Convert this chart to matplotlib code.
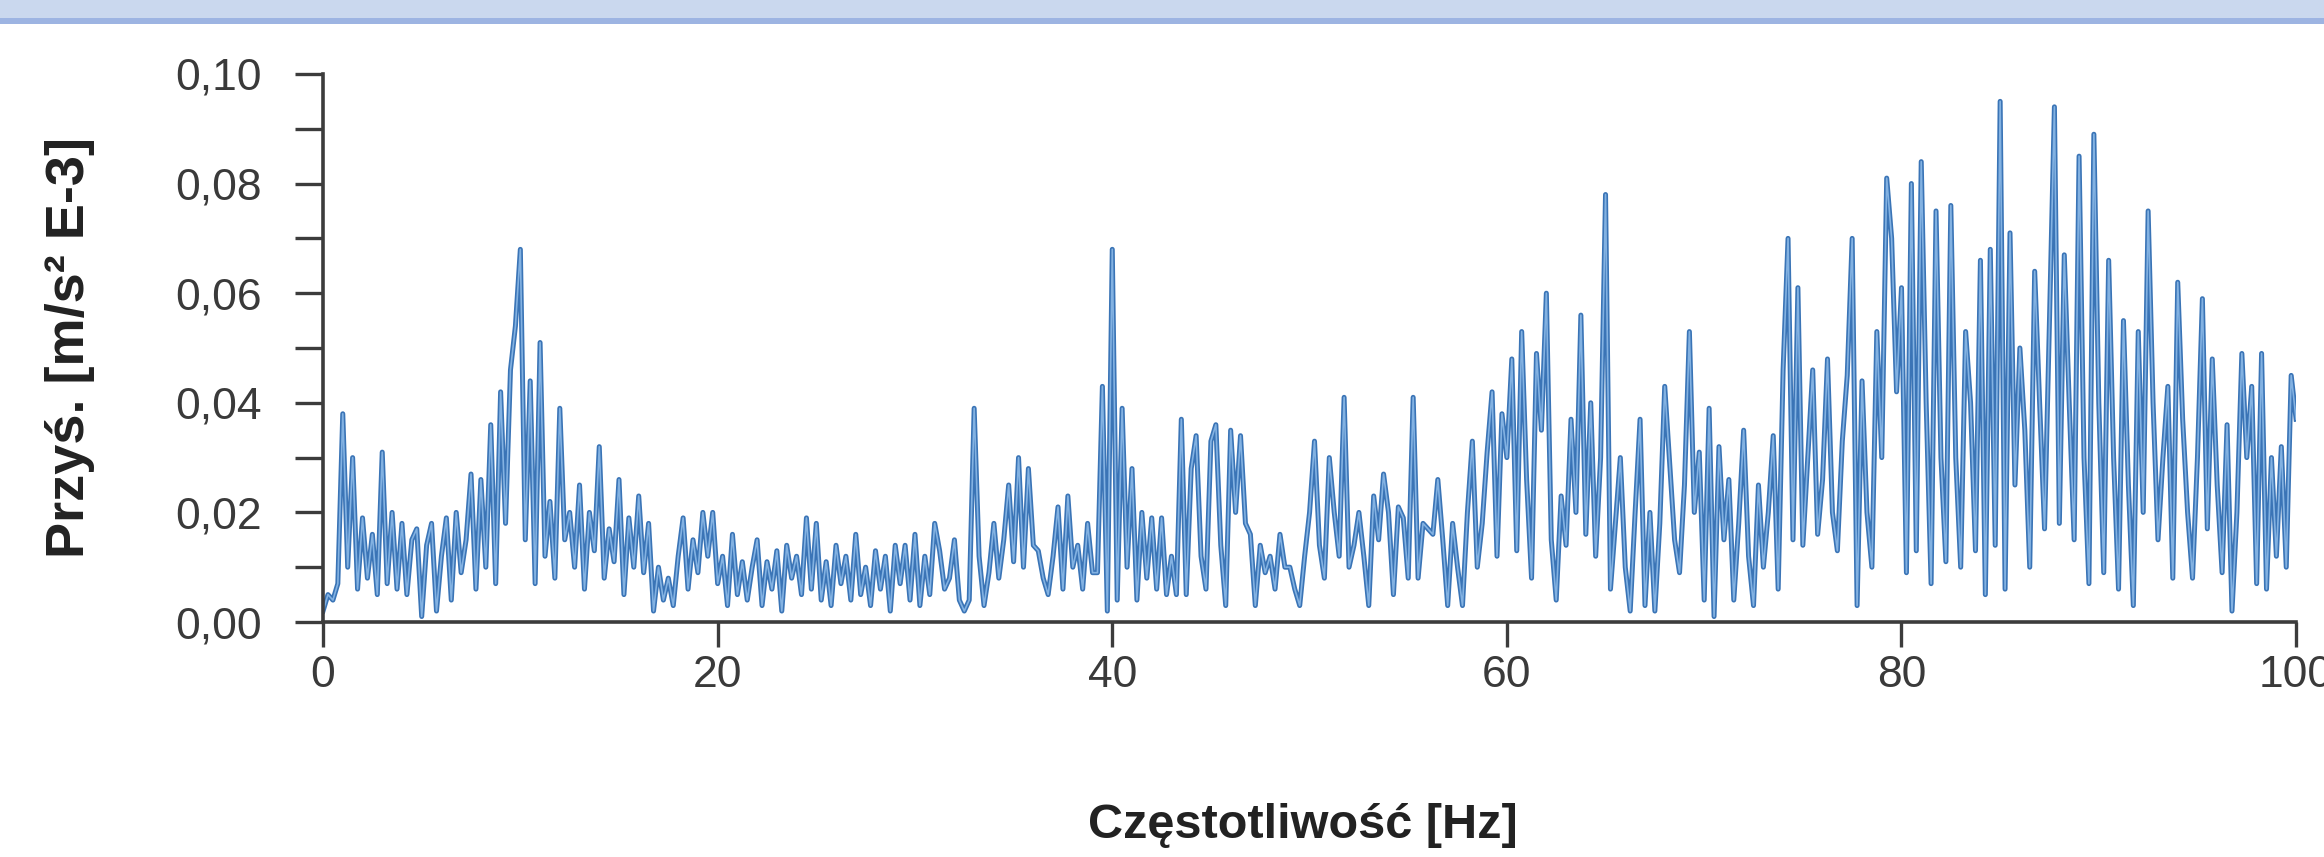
import numpy as np
import matplotlib
matplotlib.use('Agg')
import matplotlib.pyplot as plt
from matplotlib.patches import Rectangle
from matplotlib.ticker import MultipleLocator

# spectrum, one value every 0.25 Hz from 0 to 100 Hz
freq_step = 0.25
accel = [
    # 0 - 5 Hz
    0.002, 0.005, 0.004, 0.007, 0.038, 0.010, 0.030, 0.006, 0.019, 0.008,
    0.016, 0.005, 0.031, 0.007, 0.020, 0.006, 0.018, 0.005, 0.015, 0.017,
    # 5 - 10 Hz
    0.001, 0.014, 0.018, 0.002, 0.012, 0.019, 0.004, 0.020, 0.009, 0.015,
    0.027, 0.006, 0.026, 0.010, 0.036, 0.007, 0.042, 0.018, 0.046, 0.054,
    # 10 - 15 Hz
    0.068, 0.015, 0.044, 0.007, 0.051, 0.012, 0.022, 0.008, 0.039, 0.015,
    0.020, 0.010, 0.025, 0.006, 0.020, 0.013, 0.032, 0.008, 0.017, 0.011,
    # 15 - 20 Hz
    0.026, 0.005, 0.019, 0.010, 0.023, 0.009, 0.018, 0.002, 0.010, 0.004,
    0.008, 0.003, 0.012, 0.019, 0.006, 0.015, 0.009, 0.020, 0.012, 0.020,
    # 20 - 25 Hz
    0.007, 0.012, 0.003, 0.016, 0.005, 0.011, 0.004, 0.010, 0.015, 0.003,
    0.011, 0.006, 0.013, 0.002, 0.014, 0.008, 0.012, 0.005, 0.019, 0.006,
    # 25 - 30 Hz
    0.018, 0.004, 0.011, 0.003, 0.014, 0.007, 0.012, 0.004, 0.016, 0.005,
    0.010, 0.003, 0.013, 0.006, 0.012, 0.002, 0.014, 0.007, 0.014, 0.004,
    # 30 - 35 Hz
    0.016, 0.003, 0.012, 0.005, 0.018, 0.013, 0.006, 0.008, 0.015, 0.004,
    0.002, 0.004, 0.039, 0.012, 0.003, 0.009, 0.018, 0.008, 0.015, 0.025,
    # 35 - 40 Hz
    0.011, 0.030, 0.010, 0.028, 0.014, 0.013, 0.008, 0.005, 0.012, 0.021,
    0.006, 0.023, 0.010, 0.014, 0.006, 0.018, 0.009, 0.009, 0.043, 0.002,
    # 40 - 45 Hz
    0.068, 0.004, 0.039, 0.010, 0.028, 0.004, 0.020, 0.008, 0.019, 0.006,
    0.019, 0.005, 0.012, 0.005, 0.037, 0.005, 0.028, 0.034, 0.012, 0.006,
    # 45 - 50 Hz
    0.033, 0.036, 0.014, 0.003, 0.035, 0.020, 0.034, 0.018, 0.016, 0.003,
    0.014, 0.009, 0.012, 0.006, 0.016, 0.010, 0.010, 0.006, 0.003, 0.012,
    # 50 - 55 Hz
    0.020, 0.033, 0.014, 0.008, 0.030, 0.020, 0.012, 0.041, 0.010, 0.014,
    0.020, 0.012, 0.003, 0.023, 0.015, 0.027, 0.020, 0.005, 0.021, 0.019,
    # 55 - 60 Hz
    0.008, 0.041, 0.008, 0.018, 0.017, 0.016, 0.026, 0.015, 0.003, 0.018,
    0.010, 0.003, 0.020, 0.033, 0.010, 0.018, 0.031, 0.042, 0.012, 0.038,
    # 60 - 65 Hz
    0.030, 0.048, 0.013, 0.053, 0.026, 0.008, 0.049, 0.035, 0.060, 0.015,
    0.004, 0.023, 0.014, 0.037, 0.020, 0.056, 0.016, 0.040, 0.012, 0.030,
    # 65 - 70 Hz
    0.078, 0.006, 0.018, 0.030, 0.010, 0.002, 0.020, 0.037, 0.003, 0.020,
    0.002, 0.018, 0.043, 0.029, 0.015, 0.009, 0.025, 0.053, 0.020, 0.031,
    # 70 - 75 Hz
    0.004, 0.039, 0.001, 0.032, 0.015, 0.026, 0.004, 0.018, 0.035, 0.012,
    0.003, 0.025, 0.010, 0.020, 0.034, 0.006, 0.046, 0.070, 0.015, 0.061,
    # 75 - 80 Hz
    0.014, 0.030, 0.046, 0.016, 0.026, 0.048, 0.020, 0.013, 0.033, 0.045,
    0.070, 0.003, 0.044, 0.020, 0.010, 0.053, 0.030, 0.081, 0.070, 0.042,
    # 80 - 85 Hz
    0.061, 0.009, 0.080, 0.013, 0.084, 0.040, 0.007, 0.075, 0.030, 0.011,
    0.076, 0.030, 0.010, 0.053, 0.040, 0.013, 0.066, 0.005, 0.068, 0.014,
    # 85 - 90 Hz
    0.095, 0.006, 0.071, 0.025, 0.050, 0.035, 0.010, 0.064, 0.040, 0.017,
    0.055, 0.094, 0.018, 0.067, 0.040, 0.015, 0.085, 0.030, 0.007, 0.089,
    # 90 - 95 Hz
    0.040, 0.009, 0.066, 0.030, 0.006, 0.055, 0.025, 0.003, 0.053, 0.020,
    0.075, 0.040, 0.015, 0.030, 0.043, 0.008, 0.062, 0.037, 0.020, 0.008,
    # 95 - 100 Hz
    0.030, 0.059, 0.017, 0.048, 0.025, 0.009, 0.036, 0.002, 0.020, 0.049,
    0.030, 0.043, 0.007, 0.049, 0.006, 0.030, 0.012, 0.032, 0.010, 0.045,
    0.037,
]
freq = np.arange(len(accel)) * freq_step

x_ticks = [0, 20, 40, 60, 80, 100]
y_ticks = [0.00, 0.02, 0.04, 0.06, 0.08, 0.10]
y_tick_labels = ['0,00', '0,02', '0,04', '0,06', '0,08', '0,10']

plt.rcParams['font.family'] = ['Liberation Sans', 'DejaVu Sans']

fig = plt.figure(figsize=(23.24, 8.57), dpi=100)
fig.patch.set_facecolor('white')

# window title strip at the top
fig.patches.append(Rectangle((0, 1 - 18 / 857), 1, 18 / 857, transform=fig.transFigure,
                             facecolor='#cad8ee', edgecolor='none'))
fig.patches.append(Rectangle((0, 1 - 24 / 857), 1, 6 / 857, transform=fig.transFigure,
                             facecolor='#9db4e2', edgecolor='none'))

ax = fig.add_axes([0.139, 0.2742, 0.849, 0.6395])
ax.plot(freq, accel, color='#3a74b6', linewidth=3.6, solid_joinstyle='round')
ax.plot(freq, accel, color='#83b2e2', linewidth=1.2, solid_joinstyle='round')

ax.set_xlim(0, 100)
ax.set_ylim(0, 0.10)
ax.set_xticks(x_ticks)
ax.set_yticks(y_ticks)
ax.set_yticklabels(y_tick_labels)
ax.yaxis.set_minor_locator(MultipleLocator(0.01))

for side in ['top', 'right']:
    ax.spines[side].set_visible(False)
for side in ['left', 'bottom']:
    ax.spines[side].set_color('#3c3c3c')
    ax.spines[side].set_linewidth(2.6)

ax.tick_params(axis='y', which='both', length=20, width=2.4, color='#3c3c3c',
               labelsize=32, labelcolor='#3a3a3a', pad=24)
ax.tick_params(axis='x', which='both', length=18, width=2.4, color='#3c3c3c',
               labelsize=32, labelcolor='#3a3a3a', pad=6)

ax.set_xlabel('Częstotliwość [Hz]', fontsize=35, fontweight='bold', color='#222222')
ax.xaxis.label.set_va('center')
ax.xaxis.set_label_coords(0.4965, -0.372)
ax.set_ylabel('Przyś. [m/s² E-3]', fontsize=39, fontweight='bold', color='#222222')
ax.yaxis.label.set_va('center')
ax.yaxis.set_label_coords(-0.128, 0.5)

fig.savefig('out.png', dpi=100)
